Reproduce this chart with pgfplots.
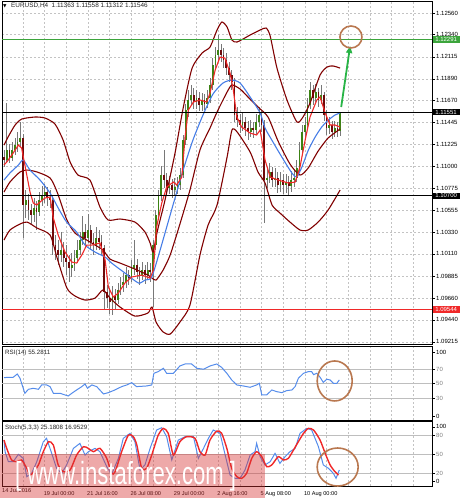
\documentclass[border=0pt]{standalone}
\usepackage{fontspec}
\setmainfont{Liberation Sans}
\newfontfamily\dejavu{DejaVu Sans}
\usepackage{pgfplots}
\pgfplotsset{compat=1.18}
\usepackage{pgfplotstable}
\usetikzlibrary{arrows.meta}
\definecolor{bbred}{RGB}{128,0,0}
\definecolor{mablue}{RGB}{70,125,230}
\definecolor{rsiblue}{RGB}{85,140,235}
\definecolor{bullg}{RGB}{60,130,20}
\definecolor{bearr}{RGB}{110,10,10}
\definecolor{wickg}{RGB}{120,120,120}
\definecolor{gridc}{RGB}{195,195,195}
\definecolor{levelc}{RGB}{190,190,190}
\definecolor{circc}{RGB}{185,120,80}
\definecolor{arrowg}{RGB}{40,180,70}
\definecolor{lineg}{RGB}{60,165,60}
\definecolor{linered}{RGB}{240,40,40}

\pgfplotstableread{
i o h l c
0 1.11100 1.11167 1.11000 1.11065
1 1.11065 1.11645 1.11030 1.11167
2 1.11167 1.11230 1.11040 1.11085
3 1.11085 1.11250 1.11050 1.11167
4 1.11167 1.11290 1.11120 1.11217
5 1.11217 1.11350 1.11150 1.11248
6 1.11248 1.11451 1.11200 1.11289
7 1.11289 1.11330 1.10272 1.10607
8 1.10607 1.10760 1.10480 1.10658
9 1.10658 1.10720 1.10450 1.10557
10 1.10557 1.10620 1.10400 1.10506
11 1.10506 1.10680 1.10440 1.10577
12 1.10577 1.10650 1.10350 1.10536
13 1.10536 1.10740 1.10500 1.10658
14 1.10658 1.10800 1.10600 1.10699
15 1.10699 1.10820 1.10630 1.10739
16 1.10739 1.10790 1.10600 1.10678
17 1.10678 1.10760 1.10580 1.10658
18 1.10658 1.10700 1.10100 1.10200
19 1.10200 1.10300 1.10050 1.10150
20 1.10150 1.10250 1.10000 1.10099
21 1.10099 1.10330 1.10030 1.10150
22 1.10150 1.10230 1.09980 1.10068
23 1.10068 1.10200 1.09900 1.10027
24 1.10027 1.10100 1.09824 1.09966
25 1.09966 1.10120 1.09880 1.09997
26 1.09997 1.10150 1.09940 1.10068
27 1.10068 1.10250 1.10020 1.10150
28 1.10150 1.10330 1.10100 1.10251
29 1.10251 1.10500 1.10200 1.10333
30 1.10333 1.10420 1.10200 1.10272
31 1.10272 1.10520 1.10220 1.10353
32 1.10353 1.10400 1.10150 1.10231
33 1.10231 1.10320 1.10100 1.10200
34 1.10200 1.10380 1.10150 1.10272
35 1.10272 1.10350 1.10150 1.10231
36 1.10231 1.10300 1.10100 1.10170
37 1.10170 1.10200 1.09539 1.09722
38 1.09722 1.09800 1.09560 1.09661
39 1.09661 1.09760 1.09500 1.09621
40 1.09621 1.09780 1.09489 1.09682
41 1.09682 1.09750 1.09540 1.09641
42 1.09641 1.09820 1.09600 1.09743
43 1.09743 1.09880 1.09690 1.09794
44 1.09794 1.09920 1.09720 1.09824
45 1.09824 1.09980 1.09760 1.09895
46 1.09895 1.09950 1.09790 1.09865
47 1.09865 1.10050 1.09820 1.09966
48 1.09966 1.10251 1.09900 1.09997
49 1.09997 1.10060 1.09850 1.09926
50 1.09926 1.09980 1.09800 1.09885
51 1.09885 1.10030 1.09840 1.09946
52 1.09946 1.10000 1.09810 1.09895
53 1.09895 1.10030 1.09850 1.09946
54 1.09946 1.10020 1.09830 1.09926
55 1.09926 1.10250 1.09570 1.10200
56 1.10200 1.10560 1.10150 1.10506
57 1.10506 1.10760 1.10450 1.10709
58 1.10709 1.11000 1.10650 1.10912
59 1.10912 1.11167 1.10780 1.10861
60 1.10861 1.10930 1.10700 1.10780
61 1.10780 1.10900 1.10720 1.10811
62 1.10811 1.10870 1.10680 1.10760
63 1.10760 1.10880 1.10700 1.10790
64 1.10790 1.10890 1.10720 1.10811
65 1.10811 1.10980 1.10760 1.10912
66 1.10912 1.11320 1.10880 1.11268
67 1.11268 1.11640 1.11220 1.11573
68 1.11573 1.11780 1.11500 1.11675
69 1.11675 1.11830 1.11620 1.11726
70 1.11726 1.11800 1.11580 1.11655
71 1.11655 1.11780 1.11580 1.11695
72 1.11695 1.11760 1.11560 1.11624
73 1.11624 1.11750 1.11560 1.11675
74 1.11675 1.11740 1.11570 1.11634
75 1.11634 1.11780 1.11590 1.11695
76 1.11695 1.11900 1.11650 1.11828
77 1.11828 1.12100 1.11780 1.12031
78 1.12031 1.12220 1.11980 1.12133
79 1.12133 1.12336 1.12080 1.12184
80 1.12184 1.12250 1.12060 1.12133
81 1.12133 1.12200 1.12000 1.12082
82 1.12082 1.12150 1.11930 1.12000
83 1.12000 1.12060 1.11860 1.11929
84 1.11929 1.11980 1.11780 1.11858
85 1.11858 1.11900 1.11450 1.11522
86 1.11522 1.11600 1.11400 1.11472
87 1.11472 1.11530 1.11340 1.11421
88 1.11421 1.11540 1.11360 1.11451
89 1.11451 1.11500 1.11310 1.11390
90 1.11390 1.11460 1.11270 1.11350
91 1.11350 1.11470 1.11300 1.11390
92 1.11390 1.11450 1.11290 1.11370
93 1.11370 1.11530 1.11320 1.11451
94 1.11451 1.11600 1.11400 1.11522
95 1.11522 1.11560 1.11350 1.11421
96 1.11421 1.11470 1.10424 1.10861
97 1.10861 1.10980 1.10780 1.10882
98 1.10882 1.11030 1.10830 1.10943
99 1.10943 1.10990 1.10790 1.10861
100 1.10861 1.10980 1.10790 1.10882
101 1.10882 1.10940 1.10730 1.10811
102 1.10811 1.10940 1.10740 1.10861
103 1.10861 1.10920 1.10720 1.10811
104 1.10811 1.10920 1.10730 1.10841
105 1.10841 1.10900 1.10700 1.10800
106 1.10800 1.10950 1.10740 1.10861
107 1.10861 1.10960 1.10790 1.10882
108 1.10882 1.11060 1.10840 1.10983
109 1.10983 1.11250 1.10940 1.11167
110 1.11167 1.11420 1.11120 1.11350
111 1.11350 1.11500 1.11300 1.11421
112 1.11421 1.11700 1.11380 1.11624
113 1.11624 1.11858 1.11580 1.11777
114 1.11777 1.11830 1.11620 1.11695
115 1.11695 1.11840 1.11650 1.11756
116 1.11756 1.11800 1.11600 1.11675
117 1.11675 1.11830 1.11640 1.11726
118 1.11726 1.11760 1.11460 1.11522
119 1.11522 1.11570 1.11320 1.11390
120 1.11390 1.11500 1.11330 1.11421
121 1.11421 1.11460 1.11280 1.11350
122 1.11350 1.11460 1.11300 1.11390
123 1.11390 1.11450 1.11300 1.11363
124 1.11363 1.11558 1.11312 1.11546
}\ohlc

\tikzset{
  lbl/.style={anchor=west, inner xsep=1.5pt, inner ysep=1pt, minimum width=27pt, align=left, font=\fontsize{6}{7}\selectfont, text=white, xshift=0.4pt},
}
\pgfplotsset{
  panel/.style={
    scale only axis, width=430pt, xmin=-0.74, xmax=157.9,
    axis line style={black, line width=0.8pt},
    xtick={7,15,...,151}, xticklabel={\relax},
    xmajorgrids,
    major x grid style={gridc, dash pattern=on 2pt off 2pt, line width=0.5pt},
    x tick style={draw=none},
    ytick pos=right, yticklabel pos=right,
    tick align=outside, major tick length=3pt,
    y tick style={black, line width=0.5pt},
    yticklabel style={font=\fontsize{6}{7}\selectfont, anchor=west, inner sep=1pt},
    clip=false,
  },
}

\begin{document}
\begin{tikzpicture}
\useasboundingbox (0,0) rectangle (460pt,500pt);

% ---------- main price panel ----------
\begin{axis}[panel, at={(2pt,156pt)}, anchor=south west, height=343pt,
  ymin=1.09194, ymax=1.12682,
  ytick={1.09215,1.09440,1.09660,1.09885,1.10110,1.10330,1.10555,1.10775,1.11000,1.11225,1.11445,1.11670,1.11890,1.12115,1.12340,1.12560},
  yticklabels={1.09215,1.09440,1.09660,1.09885,1.10110,1.10330,1.10555,1.10775,1.11000,1.11225,1.11445,1.11670,1.11890,1.12115,1.12340,1.12560},
  ymajorgrids,
  major y grid style={gridc, dash pattern=on 2pt off 2pt, line width=0.5pt},
]
% wicks
\addplot[draw=none, mark=none, forget plot,
  error bars/.cd, y dir=both, y explicit, error mark=none,
  error bar style={draw=wickg, line width=0.6pt}]
  table[x=i, y expr={(\thisrow{h}+\thisrow{l})/2}, y error expr={(\thisrow{h}-\thisrow{l})/2}] {\ohlc};
% bull bodies (bear rows pushed out of the domain and discarded)
\addplot[draw=none, mark=none, forget plot, restrict y to domain=1:2, unbounded coords=discard,
  error bars/.cd, y dir=both, y explicit, error mark=none,
  error bar style={draw=bullg, line width=1.8pt}]
  table[x=i, y expr={(\thisrow{o}+\thisrow{c})/2 + (\thisrow{c}<\thisrow{o})*10}, y error expr={abs(\thisrow{c}-\thisrow{o})/2}] {\ohlc};
% bear bodies
\addplot[draw=none, mark=none, forget plot, restrict y to domain=1:2, unbounded coords=discard,
  error bars/.cd, y dir=both, y explicit, error mark=none,
  error bar style={draw=bearr, line width=1.8pt}]
  table[x=i, y expr={(\thisrow{o}+\thisrow{c})/2 + (\thisrow{c}>=\thisrow{o})*10}, y error expr={abs(\thisrow{o}-\thisrow{c})/2}] {\ohlc};

% Bollinger upper
\addplot[bbred, line width=1.1pt, smooth, tension=0.4] coordinates {
(0,1.11217) (1.5,1.11299) (4.1,1.11421) (6.6,1.11482) (11.4,1.11502) (15.1,1.11492) (18.8,1.11431) (21.8,1.11268) (24.4,1.11044) (27.3,1.10912) (31.7,1.10861) (35.4,1.10587) (38.4,1.10455) (42.8,1.10465) (48.3,1.10434) (52.0,1.10333) (53.9,1.10221) (55.0,1.10129) (56.5,1.10333) (59.4,1.10658) (63.1,1.11136) (66.1,1.11594) (69.4,1.12000) (73.1,1.12153) (76.0,1.12214) (78.6,1.12387) (80.4,1.12468) (82.3,1.12417) (84.1,1.12285) (86.0,1.12265) (90.8,1.12336) (94.5,1.12387) (96.7,1.12407) (98.2,1.12326) (100.7,1.12000) (104.4,1.11675) (108.1,1.11451) (110.3,1.11502) (112.9,1.11644) (116.6,1.11929) (119.2,1.12011) (121.4,1.12021) (124.0,1.12000)};
% Bollinger middle
\addplot[bbred, line width=1.1pt, smooth, tension=0.4] coordinates {
(0,1.10739) (2.2,1.10841) (5.9,1.10943) (8.5,1.10963) (12.2,1.10943) (17.0,1.10882) (19.6,1.10739) (23.2,1.10455) (26.2,1.10322) (29.9,1.10261) (33.6,1.10200) (36.5,1.10150) (39.1,1.10058) (42.8,1.10017) (48.3,1.09956) (53.1,1.09895) (54.6,1.09865) (56.1,1.09844) (58.7,1.09946) (61.3,1.10099) (64.9,1.10414) (68.6,1.10760) (72.3,1.11167) (76.0,1.11390) (78.6,1.11553) (82.3,1.11756) (84.1,1.11828) (87.1,1.11787) (90.0,1.11706) (93.7,1.11604) (97.4,1.11502) (101.1,1.11258) (105.5,1.11024) (109.2,1.10912) (112.2,1.10983) (115.9,1.11156) (119.6,1.11289) (124.0,1.11380)};
% Bollinger lower
\addplot[bbred, line width=1.1pt, smooth, tension=0.4] coordinates {
(0,1.10251) (2.2,1.10353) (5.9,1.10414) (8.5,1.10434) (12.2,1.10373) (17.0,1.10302) (19.6,1.10068) (23.2,1.09763) (26.2,1.09682) (29.9,1.09641) (33.6,1.09661) (36.5,1.09743) (39.1,1.09661) (42.8,1.09570) (48.3,1.09478) (53.1,1.09509) (54.6,1.09570) (56.1,1.09417) (58.7,1.09316) (61.3,1.09295) (64.9,1.09417) (68.6,1.09590) (72.3,1.10099) (75.3,1.10404) (78.6,1.10607) (82.3,1.11095) (84.1,1.11370) (86.0,1.11350) (90.8,1.11146) (93.7,1.10943) (96.3,1.10831) (98.9,1.10607) (101.8,1.10526) (105.5,1.10434) (109.2,1.10353) (112.2,1.10353) (115.9,1.10434) (119.6,1.10557) (124.0,1.10760)};
% blue MA
\addplot[mablue, line width=1.1pt, smooth, tension=0.4] coordinates {
(0,1.10861) (2.2,1.10933) (5.3,1.11014) (7.1,1.11065) (9.6,1.10963) (13.3,1.10861) (17.0,1.10729) (20.0,1.10577) (23.1,1.10434) (26.8,1.10333) (29.9,1.10200) (33.6,1.10129) (37.3,1.10078) (39.7,1.10017) (44.6,1.09916) (49.6,1.09814) (52.0,1.09844) (54.5,1.09875) (57.6,1.10150) (61.3,1.10506) (66.1,1.10963) (69.7,1.11268) (73.4,1.11522) (77.1,1.11736) (80.8,1.11848) (84.1,1.11878) (87.1,1.11848) (90.8,1.11706) (94.5,1.11543) (96.3,1.11390) (98.8,1.11268) (102.5,1.11095) (106.2,1.10933) (108.0,1.10892) (109.9,1.10994) (112.3,1.11167) (114.8,1.11299) (117.2,1.11400) (119.7,1.11472) (122.1,1.11522) (124.0,1.11543)};
% red MA
\addplot[linered, line width=1.1pt] coordinates {
(0,1.11014) (1.0,1.11044) (3.4,1.11136) (5.3,1.11217) (6.5,1.11187) (7.7,1.11014) (9.6,1.10739) (10.8,1.10627) (12.1,1.10607) (13.3,1.10638) (15.1,1.10678) (17.0,1.10689) (18.2,1.10475) (20.0,1.10302) (22.5,1.10129) (25.0,1.10027) (26.8,1.10017) (28.7,1.10099) (30.5,1.10200) (32.4,1.10200) (35.4,1.10221) (37.3,1.10048) (38.5,1.09773) (40.3,1.09672) (42.2,1.09712) (44.6,1.09814) (47.1,1.09875) (50.8,1.09895) (53.9,1.09865) (55.1,1.09946) (56.3,1.10383) (58.2,1.10627) (60.0,1.10790) (62.5,1.10841) (63.7,1.10811) (65.6,1.10892) (66.8,1.11299) (68.0,1.11573) (69.9,1.11655) (72.3,1.11675) (74.8,1.11655) (76.0,1.11746) (77.9,1.11980) (79.7,1.12112) (81.5,1.12102) (83.4,1.11950) (84.6,1.11777) (85.9,1.11502) (87.7,1.11400) (90.8,1.11339) (93.2,1.11319) (94.5,1.11370) (96.3,1.11065) (98.2,1.10892) (101.2,1.10861) (104.9,1.10831) (107.4,1.10841) (109.2,1.10994) (111.1,1.11268) (112.9,1.11502) (115.4,1.11675) (116.6,1.11706) (118.5,1.11543) (120.3,1.11421) (122.1,1.11421) (124.0,1.11400)};

% horizontal levels
\addplot[lineg, line width=1.3pt] coordinates {(-0.74,1.12291) (157.9,1.12291)};
\addplot[black, line width=1.1pt] coordinates {(-0.74,1.11551) (157.9,1.11551)};
\addplot[black, line width=1.1pt] coordinates {(-0.74,1.10700) (157.9,1.10700)};
\addplot[linered, line width=1.1pt] coordinates {(-0.74,1.09544) (157.9,1.09544)};

% price labels of the levels
\node[lbl, fill=lineg] at (axis cs:157.9,1.12291) {1.12291};
\node[lbl, fill=black] at (axis cs:157.9,1.11551) {1.11551};
\node[lbl, fill=black] at (axis cs:157.9,1.10700) {1.10700};
\node[lbl, fill=linered] at (axis cs:157.9,1.09544) {1.09544};

% annotations
\draw[arrowg, line width=1.8pt, -{Triangle[length=7pt,width=6pt]}] (axis cs:124.4,1.11604) -- (axis cs:127.7,1.12224);
\draw[circc, line width=1.6pt] (axis cs:128.0,1.12316) circle[radius=11pt];
\end{axis}

% ---------- RSI panel ----------
\begin{axis}[panel, at={(2pt,80pt)}, anchor=south west, height=74pt,
  ymin=0, ymax=102,
  ytick={5.5,30,50,70,93.8},
  yticklabels={0,\textcolor{gray}{30},\textcolor{gray}{50},\textcolor{gray}{70},100},
]
\addplot[levelc, line width=0.8pt] coordinates {(-0.74,70) (157.9,70)};
\addplot[levelc, line width=1.2pt] coordinates {(-0.74,50) (157.9,50)};
\addplot[levelc, line width=0.8pt] coordinates {(-0.74,30) (157.9,30)};
\addplot[rsiblue, line width=1pt] coordinates {
(0,58.5) (3.4,58.9) (4.9,63.4) (5.9,57.5) (7.7,36.8) (9,42.3) (10.8,43.7) (12.7,42.3) (13.9,48.3) (15.7,48.3) (17,46) (18.2,36.8) (20.7,36.8) (22.5,34.5) (23.7,33.1) (25,36.8) (26.8,41.4) (28.7,46) (29.9,49.7) (30.8,43.7) (32.4,48.3) (34.2,46) (36.7,35.9) (38.5,37.7) (40.9,41.4) (43.4,46) (45.3,48.3) (47.1,51.5) (48.9,46) (52.6,46.9) (54.5,48.3) (55.3,64.4) (56.9,66.7) (58.8,71.3) (60,64.4) (62.5,64.4) (64.9,74.5) (66.8,77.2) (69.2,77.2) (71.1,71.3) (73.6,70) (76,74.5) (78.5,77.2) (80.3,72.5) (82.2,64.4) (84,55.2) (85.9,48.3) (88.3,46.9) (90.8,45.1) (93.2,48.3) (94.2,50.6) (95.1,34.5) (96.9,34.5) (98.8,41.4) (100.6,39.1) (102.5,37.7) (104.3,40.5) (106.2,41.4) (107.4,46) (108.6,57.5) (110.5,64.4) (112.3,66.7) (113.5,66.7) (114.2,62.5) (115.4,64.4) (116.6,58.9) (117.8,51.9) (119.1,56.2) (120.3,55.2) (121.5,50.6) (122.8,50.6) (123.7,55.2)};
\draw[circc, line width=1.6pt] (axis cs:122.0,53.8) ellipse[x radius=17.5pt, y radius=20pt];
\end{axis}

% ---------- Stochastic panel ----------
\begin{axis}[panel, at={(2pt,14pt)}, anchor=south west, height=65pt,
  ymin=-0.3, ymax=103.4,
  ytick={6.5,20,50,80,94},
  yticklabels={0,\textcolor{gray}{20},\textcolor{gray}{50},\textcolor{gray}{80},100},
  xticklabels={,19 Jul 00:00,,21 Jul 16:00,,26 Jul 08:00,,29 Jul 00:00,,2 Aug 16:00,,5 Aug 08:00,,10 Aug 00:00,,,,,},
  xticklabel style={font=\fontsize{5.6}{6}\selectfont, anchor=north west, inner sep=0pt, yshift=-2.5pt, xshift=-1pt},
]
\addplot[levelc, line width=0.8pt] coordinates {(-0.74,80) (157.9,80)};
\addplot[levelc, line width=0.8pt] coordinates {(-0.74,50) (157.9,50)};
\addplot[levelc, line width=0.8pt] coordinates {(-0.74,20) (157.9,20)};
\addplot[rsiblue, line width=1pt] coordinates {
(0,73) (0.4,54.4) (1.6,38.5) (3.4,38.5) (5.3,50.2) (7.1,43.8) (8.4,14.6) (10.2,19.9) (12.1,38.5) (14.5,70.4) (15.7,75.7) (17.6,51.8) (19.4,27.9) (21.3,19.9) (23.1,33.3) (25.6,59.7) (28,67.7) (29.9,49.1) (31.1,54.4) (33.6,59.7) (35.4,54.4) (37.9,30.6) (39.7,18.3) (42.2,43.8) (44,75.7) (46.5,83.7) (48.3,70.4) (50.2,25.2) (52,33.3) (53.9,59.7) (56.3,89) (58.2,92.7) (60,78.4) (61.9,41.2) (64.3,73) (66.8,78.4) (69.9,78.4) (71.7,43.8) (73.6,59.7) (75.4,75.7) (77.2,89) (79.7,83.7) (81.6,49.1) (83.4,17.2) (85.2,11.9) (87.1,11.9) (88.9,25.2) (90.8,49.1) (92.6,54.4) (93.2,67.7) (94.5,46.5) (96.3,33.3) (98.2,38.5) (100,51.8) (101.8,35.8) (103.7,46.5) (105.5,54.4) (107.4,59.7) (109.2,83.7) (111.7,91.6) (113.5,89) (116,62.4) (117.8,33.3) (119.7,27.9) (121.5,19.9) (122.5,11.9) (123.7,25.2)};
\addplot[linered, line width=1.4pt, smooth, tension=0.4] coordinates {
(0,73) (1,59.7) (2.8,41.2) (4.7,38.5) (6.5,41.2) (8.4,27.9) (9.6,17.2) (10.8,21.5) (12.7,33.3) (14.5,54.4) (16.4,70.4) (18.2,65.1) (20,33.3) (21.9,22.5) (24.4,25.2) (26.8,49.1) (29.3,62.4) (31.1,59.7) (33,54.4) (35.4,59.7) (37.9,43.8) (39.7,19.9) (41,22.5) (43.4,54.4) (45.9,81) (47.7,78.4) (49,65.1) (50.8,27.9) (52.6,27.9) (54.5,49.1) (56.9,81) (58.8,91.6) (60.6,83.7) (62.5,49.1) (64.9,70.4) (67.4,78.4) (70.5,75.7) (72.3,54.4) (74.2,49.1) (76,73) (78.5,87.4) (80.3,83.7) (82.2,59.7) (84,27.9) (85.9,14.6) (87.7,11.9) (89.5,19.9) (91.4,43.8) (93.2,54.4) (95.1,46.5) (96.9,30.6) (98.8,33.3) (101.2,46.5) (103.1,41.2) (104.9,43.8) (106.8,57.1) (108.6,70.4) (110.5,83.7) (112.3,91.6) (114.2,89) (116.6,73) (118.5,51.8) (120.3,33.3) (122.1,22.5) (123.4,17.2)};
\draw[circc, line width=1.6pt] (axis cs:123.1,30) ellipse[x radius=20.5pt, y radius=19pt];
\end{axis}

% ---------- texts ----------
\node[anchor=base west, inner sep=0pt, font=\dejavu\fontsize{4.5}{5}\selectfont] at (3pt,492.5pt) {▼};
\node[anchor=base west, inner sep=0pt, font=\fontsize{6.4}{7}\selectfont, text=black!85] at (11pt,492.5pt) {EURUSD,H4\ \ 1.11363 1.11558 1.11312 1.11546};
\node[anchor=base west, inner sep=0pt, font=\fontsize{6.2}{7}\selectfont, text=black!85] at (5pt,145pt) {RSI(14) 55.2811};
\node[anchor=base west, inner sep=0pt, font=\fontsize{6.2}{7}\selectfont, text=black!85] at (5pt,70pt) {Stoch(5,3,3) 25.1808 16.9529};
\node[anchor=north west, inner sep=0pt, font=\fontsize{5.6}{6}\selectfont] at (2pt,11.5pt) {14 Jul 2016};

% watermark
\fill[fill={rgb,255:red,215;green,50;blue,50}, fill opacity=0.42] (0pt,2pt) rectangle (265pt,46pt);
\node[anchor=base west, inner sep=0pt, text=white, font=\fontsize{32}{32}\selectfont] at (15pt,15pt) {\scalebox{0.69}[1]{[\ www.instaforex.com\ ]}};
\end{tikzpicture}
\end{document}
